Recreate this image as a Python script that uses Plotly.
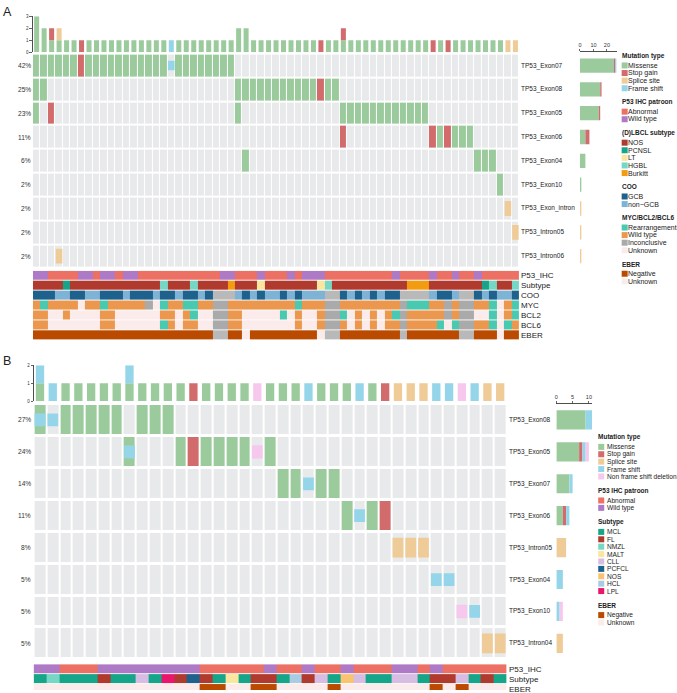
import plotly.graph_objects as go

W, H = 677, 693
FONT = "Liberation Sans, Arial, sans-serif"
TXT = "#222222"

# ======================= DATA =======================
# Mutation codes (one character per sample):
# "." none, M missense, S stop gain, P splice site, F frame shift,
# D non frame shift deletion, X missense + frame shift
mut_codes = ["M", "S", "P", "F", "D"]
mut_labels = ["Missense", "Stop gain", "Splice site", "Frame shift", "Non frame shift deletion"]
code_types = {".": [], "M": ["M"], "S": ["S"], "P": ["P"], "F": ["F"], "D": ["D"], "X": ["M", "F"]}

# ---------- Panel A ----------
genes_A = ["TP53_Exon07", "TP53_Exon08", "TP53_Exon05", "TP53_Exon06", "TP53_Exon04",
           "TP53_Exon10", "TP53_Exon_intron", "TP53_Intron05", "TP53_Intron06"]
pct_A = ["42%", "25%", "23%", "11%", "6%", "2%", "2%", "2%", "2%"]
muts_A = [
    "MMMMMMS" + "M" * 11 + "F" + "M" * 8 + "." * 38,
    "MM" + "." * 25 + "M" * 11 + "S" + "MM" + "." * 24,
    "M.S" + "." * 24 + "M" + "." * 13 + "M" * 12 + "." * 12,
    "." * 41 + "S" + "." * 11 + "SMSMMM" + "." * 6,
    "." * 28 + "M" + "." * 30 + "MMM" + "." * 3,
    "." * 62 + "M" + "." * 2,
    "." * 63 + "P" + ".",
    "." * 64 + "P",
    "...P" + "." * 61,
]
# annotation tracks (run-length encoded)
p53_A = [("w", 2), ("a", 4), ("w", 2), ("a", 1), ("w", 2), ("a", 1), ("w", 2), ("a", 11), ("w", 2), ("a", 3),
         ("w", 1), ("a", 3), ("w", 1), ("a", 1), ("w", 3), ("a", 9), ("w", 1), ("a", 4), ("w", 1), ("a", 2),
         ("w", 1), ("a", 2), ("w", 1), ("a", 5)]
subtype_A = [("N", 4), ("P", 1), ("N", 12), ("H", 1), ("N", 3), ("H", 1), ("N", 4), ("B", 1), ("N", 3), ("L", 1),
             ("N", 7), ("L", 1), ("H", 1), ("N", 10), ("B", 3), ("N", 7), ("P", 1), ("H", 1), ("N", 2), ("H", 1)]
coo_A = [("G", 3), ("n", 2), ("G", 2), ("n", 2), ("G", 3), ("n", 1), ("G", 3), ("n", 1), ("G", 2), ("n", 1),
         ("G", 2), ("n", 1), ("G", 1), ("u", 3), ("n", 1), ("G", 1), ("n", 1), ("G", 1), ("n", 2), ("G", 1),
         ("n", 1), ("G", 1), ("n", 3), ("u", 2), ("G", 1), ("n", 1), ("G", 1), ("n", 1), ("G", 1), ("n", 1),
         ("G", 2), ("u", 4), ("n", 1), ("G", 2), ("n", 1), ("u", 2), ("G", 1), ("n", 1), ("G", 1), ("n", 2), ("G", 1)]
myc_A = [("w", 1), ("r", 1), ("w", 4), ("u", 1), ("w", 2), ("r", 1), ("w", 5), ("i", 1), ("u", 1), ("r", 1),
         ("w", 2), ("r", 2), ("w", 2), ("i", 2), ("w", 9), ("r", 1), ("w", 3), ("i", 2), ("w", 8), ("i", 1),
         ("r", 3), ("w", 2), ("i", 1), ("w", 1), ("i", 2), ("w", 2), ("r", 1), ("u", 1), ("w", 1), ("r", 1)]
bcl2_A = [("w", 2), ("u", 2), ("w", 1), ("u", 4), ("w", 2), ("u", 6), ("w", 2), ("u", 1), ("w", 1), ("r", 1),
          ("u", 2), ("i", 2), ("w", 2), ("u", 5), ("r", 1), ("u", 1), ("w", 1), ("u", 2), ("w", 1), ("i", 2),
          ("r", 1), ("u", 1), ("w", 1), ("u", 1), ("w", 1), ("u", 1), ("w", 1), ("r", 1), ("i", 1), ("w", 5),
          ("i", 1), ("w", 1), ("i", 2), ("u", 2), ("r", 1), ("u", 1), ("w", 1), ("r", 1)]
bcl6_A = [("w", 2), ("u", 7), ("w", 2), ("u", 6), ("r", 1), ("w", 1), ("u", 1), ("w", 2), ("u", 2), ("i", 2),
          ("w", 2), ("u", 7), ("w", 1), ("u", 2), ("w", 1), ("i", 2), ("w", 1), ("u", 1), ("w", 1), ("u", 1),
          ("w", 1), ("u", 1), ("w", 2), ("i", 1), ("w", 4), ("r", 1), ("u", 1), ("r", 1), ("i", 2), ("w", 2),
          ("r", 1), ("u", 1), ("r", 1), ("w", 1)]
eber_A = [("n", 24), ("i", 2), ("n", 2), ("u", 1), ("n", 9), ("u", 1), ("i", 2), ("n", 8), ("i", 1), ("n", 7),
          ("i", 2), ("n", 3), ("u", 1), ("n", 2)]

# ---------- Panel B ----------
genes_B = ["TP53_Exon08", "TP53_Exon05", "TP53_Exon07", "TP53_Exon06", "TP53_Intron05",
           "TP53_Exon04", "TP53_Exon10", "TP53_Intron04"]
pct_B = ["27%", "24%", "14%", "11%", "8%", "5%", "5%", "5%"]
muts_B = [
    "XFMMMMM.MMM" + "." * 26,
    "." * 7 + "X" + "..." + "MSMMMMDM" + "." * 18,
    "." * 19 + "MMFMM" + "." * 13,
    "." * 24 + "MFMS" + "." * 9,
    "." * 28 + "PPP" + "." * 6,
    "." * 31 + "FF" + "." * 4,
    "." * 33 + "DF" + "." * 2,
    "." * 35 + "PP",
]
p53_B = [("w", 2), ("a", 3), ("w", 8), ("a", 5), ("w", 1), ("a", 2), ("w", 1), ("a", 2), ("w", 1), ("a", 3),
         ("w", 2), ("a", 1), ("w", 1), ("a", 5)]
subtype_B = [("M", 1), ("N", 1), ("M", 3), ("F", 1), ("M", 2), ("C", 1), ("M", 1), ("L", 1), ("F", 1), ("P", 1),
             ("F", 1), ("M", 1), ("T", 1), ("M", 1), ("F", 2), ("M", 1), ("H", 1), ("F", 1), ("C", 1), ("M", 1),
             ("O", 1), ("C", 1), ("M", 2), ("C", 2), ("M", 1), ("F", 2), ("C", 1), ("M", 1), ("F", 1), ("M", 1)]
eber_B = [("u", 13), ("n", 2), ("u", 2), ("n", 2), ("u", 4), ("n", 1), ("u", 7), ("n", 1), ("u", 1), ("n", 1), ("u", 3)]

# category keys / labels
ihc_keys, ihc_labels = ["a", "w"], ["Abnormal", "Wild type"]
subA_keys, subA_labels = ["N", "P", "L", "H", "B"], ["NOS", "PCNSL", "LT", "HGBL", "Burkitt"]
coo_keys, coo_labels = ["G", "n", "u"], ["GCB", "non\u2212GCB"]
gen_keys, gen_labels = ["r", "w", "i", "u"], ["Rearrangement", "Wild type", "Inconclusive", "Unknown"]
eber_keys, eber_labels = ["n", "u", "i"], ["Negative", "Unknown"]
subB_keys = ["M", "F", "N", "T", "C", "P", "O", "H", "L"]
subB_labels = ["MCL", "FL", "NMZL", "MALT", "CLL", "PCFCL", "NOS", "HCL", "LPL"]

# ======================= STYLE =======================
mut_colors = ["#9BCB9C", "#D26B6C", "#EECB97", "#95D5EA", "#F6C8EE"]
mut_heights = {"P": 0.62, "F": 0.40, "D": 0.42}
EMPTY = "#E8E9EB"
GRAY = "#B9B9B9"
UNK = "#FBEBEA"
ihc_colors = ["#EC7063", "#AF7AC5"]
subA_colors = ["#B03A2E", "#17A589", "#F9E79F", "#76D7C4", "#F39C12"]
coo_colors = ["#1F618D", "#7FB3D5", GRAY]
gen_colors = ["#48C9B0", "#EB984E", "#AAAAAA", UNK]
eber_colors = ["#BA4A00", UNK, GRAY]
subB_colors = ["#17A589", "#B03A2E", "#76D7C4", "#F9E79F", "#D7BDE2", "#1F618D", "#F8C471", "#A9CCE3", "#E9176B"]


def X(p):
    return p / W


def Y(p):
    return 1 - p / H


def dom_x(a, b):
    return [a / W, b / W]


def dom_y(a, b):
    return [max(0.0, 1 - b / H), 1 - a / H]


def expand(rle):
    return "".join(ch * n for ch, n in rle)


def discrete_scale(colors):
    n = len(colors)
    cs = []
    for i, c in enumerate(colors):
        cs += [[i / n, c], [(i + 1) / n, c]]
    return cs


fig = go.Figure()
annotations = []


def text(x, y, s, size, xanchor="left", yref="paper", bold=False, color=TXT):
    annotations.append(dict(
        x=X(x), xref="paper", y=y, yref=yref, text=("<b>%s</b>" % s) if bold else s,
        showarrow=False, xanchor=xanchor, yanchor="middle", borderpad=0, borderwidth=0,
        font=dict(size=size, family=FONT, color=color)))


def draw_panel(cfg):
    genes, pct, muts = cfg["genes"], cfg["pct"], cfg["muts"]
    n = len(muts[0])
    G = len(genes)
    ax = cfg["axes"]
    for s in muts:
        assert len(s) == n
    col_cnt = {t: [0] * n for t in mut_codes}
    gene_cnt = [{t: 0 for t in mut_codes} for _ in genes]
    for g, s in enumerate(muts):
        for c, ch in enumerate(s):
            for t in code_types[ch]:
                col_cnt[t][c] += 1
                gene_cnt[g][t] += 1
    # top stacked bars
    cum = [0] * n
    for t, col in zip(mut_codes, mut_colors):
        xs = [c for c in range(n) if col_cnt[t][c] > 0]
        if xs:
            fig.add_trace(go.Bar(x=xs, y=[col_cnt[t][c] for c in xs], base=[cum[c] for c in xs],
                                 width=cfg["topw"], marker=dict(color=col, line=dict(width=0)),
                                 xaxis=ax["tx"], yaxis=ax["ty"], hoverinfo="skip", showlegend=False))
        cum = [cum[c] + col_cnt[t][c] for c in range(n)]
    # grid: background + full-height mutations
    full_code = {"M": 1, "S": 2}
    z = []
    for s in muts:
        row = []
        for ch in s:
            v = 0
            for t in code_types[ch]:
                if t in full_code:
                    v = full_code[t]
            row.append(v)
        z.append(row)
    fig.add_trace(go.Heatmap(z=z, x0=0, dx=1, y0=0, dy=1, zmin=-0.5, zmax=2.5,
                             colorscale=discrete_scale([EMPTY, mut_colors[0], mut_colors[1]]),
                             showscale=False, xgap=cfg["xgap"], ygap=cfg["ygap"],
                             xaxis=ax["gx"], yaxis=ax["gy"], hoverinfo="skip"))
    # partial-height mutation marks
    for t, col in zip(mut_codes, mut_colors):
        if t not in mut_heights:
            continue
        h = mut_heights[t]
        xs, bs = [], []
        for g, s in enumerate(muts):
            for c, ch in enumerate(s):
                if t in code_types[ch]:
                    xs.append(c)
                    bs.append(g - h / 2)
        if xs:
            fig.add_trace(go.Bar(x=xs, y=[h] * len(xs), base=bs, width=cfg["cellw"],
                                 marker=dict(color=col, line=dict(width=0)),
                                 xaxis=ax["gx"], yaxis=ax["gy"], hoverinfo="skip", showlegend=False))
    # right horizontal stacked bars
    cumg = [0] * G
    for t, col in zip(mut_codes, mut_colors):
        vals = [gene_cnt[g][t] for g in range(G)]
        ys = [g for g in range(G) if vals[g] > 0]
        if ys:
            fig.add_trace(go.Bar(orientation="h", y=ys, x=[vals[g] for g in ys], base=[cumg[g] for g in ys],
                                 width=0.6, marker=dict(color=col, line=dict(width=0)),
                                 xaxis=ax["bx"], yaxis=ax["gy"], hoverinfo="skip", showlegend=False))
        cumg = [cumg[g] + vals[g] for g in range(G)]
    # row labels
    for g in range(G):
        text(cfg["pct_x"], g, pct[g], 6.6, xanchor="right", yref=ax["gy"], color="#333333")
        text(cfg["label_x"], g, genes[g], 6.5, yref=ax["gy"])
    # annotation tracks
    for k, (label, rle, keys, colors) in enumerate(cfg["tracks"]):
        s = expand(rle)
        assert len(s) == n, (label, len(s))
        zz = [[keys.index(ch) for ch in s]]
        fig.add_trace(go.Heatmap(z=zz, x0=0, dx=1, y0=k, dy=1, zmin=-0.5, zmax=len(keys) - 0.5,
                                 colorscale=discrete_scale(colors), showscale=False, xgap=0, ygap=1,
                                 xaxis=ax["gx"], yaxis=ax["ay"], hoverinfo="skip"))
        text(cfg["label_x"], k, label, 8, yref=ax["ay"])


def draw_legend(groups, title_x, sq_cx, text_x, y0, d1, pitch, d2, item_size):
    y = y0
    sx, sy, sc = [], [], []
    for title, labels, colors in groups:
        text(title_x, Y(y), title, 6.5, bold=True)
        y += d1
        for lab, col in zip(labels, colors):
            sx.append(sq_cx)
            sy.append(y)
            sc.append(col)
            text(text_x, Y(y), lab, item_size)
            y += pitch
        y += d2 - pitch
    fig.add_trace(go.Scatter(x=sx, y=sy, mode="markers",
                             marker=dict(symbol="square", size=6, color=sc, line=dict(width=0)),
                             xaxis="x7", yaxis="y7", hoverinfo="skip", showlegend=False))


tracks_A = [
    ("P53_IHC", p53_A, ihc_keys, ihc_colors),
    ("Subtype", subtype_A, subA_keys, subA_colors),
    ("COO", coo_A, coo_keys, coo_colors),
    ("MYC", myc_A, gen_keys, gen_colors),
    ("BCL2", bcl2_A, gen_keys, gen_colors),
    ("BCL6", bcl6_A, gen_keys, gen_colors),
    ("EBER", eber_A, eber_keys, eber_colors),
]
tracks_B = [
    ("P53_IHC", p53_B, ihc_keys, ihc_colors),
    ("Subtype", subtype_B, subB_keys, subB_colors),
    ("EBER", eber_B, eber_keys, eber_colors),
]

draw_panel(dict(genes=genes_A, pct=pct_A, muts=muts_A, tracks=tracks_A,
                axes=dict(tx="x", ty="y", gx="x2", gy="y2", ay="y3", bx="x3"),
                topw=0.67, cellw=0.87, xgap=1, ygap=2, pct_x=28.8, label_x=520.5))
draw_panel(dict(genes=genes_B, pct=pct_B, muts=muts_B, tracks=tracks_B,
                axes=dict(tx="x4", ty="y4", gx="x5", gy="y5", ay="y6", bx="x6"),
                topw=0.65, cellw=0.84, xgap=2, ygap=3, pct_x=28.8, label_x=508.5))

legend_A = [
    ("Mutation type", mut_labels[:4], mut_colors[:4]),
    ("P53 IHC patroon", ihc_labels, ihc_colors),
    ("(D)LBCL subtype", subA_labels, subA_colors),
    ("COO", coo_labels, coo_colors[:2]),
    ("MYC/BCL2/BCL6", gen_labels, gen_colors),
    ("EBER", eber_labels, eber_colors[:2]),
]
legend_B = [
    ("Mutation type", mut_labels, mut_colors),
    ("P53 IHC patroon", ihc_labels, ihc_colors),
    ("Subtype", subB_labels, subB_colors),
    ("EBER", eber_labels, eber_colors[:2]),
]
draw_legend(legend_A, 621.5, 624.5, 628.3, 54.3, 9.6, 7.65, 14.0, 7)
draw_legend(legend_B, 597.3, 601.0, 606.7, 438.3, 9.8, 7.45, 14.4, 6.6)

# panel letters
text(1.2, Y(10.5), "A", 12.5)
text(1.2, Y(361.5), "B", 12.5)

hidden = dict(visible=False, showgrid=False, zeroline=False, fixedrange=True)
tick_axis = dict(showgrid=False, zeroline=False, showline=True, linecolor="#222", linewidth=0.8,
                 ticks="outside", ticklen=2.5, tickwidth=0.7, tickcolor="#222", fixedrange=True)

fig.update_layout(
    width=W, height=H, margin=dict(l=0, r=0, t=0, b=0),
    paper_bgcolor="white", plot_bgcolor="rgba(0,0,0,0)",
    barmode="overlay", showlegend=False, font=dict(family=FONT, color=TXT),
    annotations=annotations,
    # ---- panel A ----
    xaxis=dict(hidden, domain=dom_x(31, 518.7), range=[-0.5, 64.5], anchor="y"),
    yaxis=dict(tick_axis, domain=dom_y(14.3, 50.7), range=[0, 3], anchor="free", position=X(30),
               tickvals=[0, 1, 2, 3], tickfont=dict(size=4.5, family=FONT, color="#333")),
    xaxis2=dict(hidden, domain=dom_x(31, 518.7), range=[-0.5, 64.5], anchor="y2"),
    yaxis2=dict(hidden, domain=dom_y(52, 268), range=[8.5, -0.5], anchor="x2"),
    yaxis3=dict(hidden, domain=dom_y(270.7, 340.7), range=[6.5, -0.5], anchor="x2"),
    xaxis3=dict(tick_axis, domain=dom_x(579.7, 617), range=[0, 27.6], anchor="free", position=Y(49.3),
                side="top", tickvals=[0, 10, 20], ticklen=2,
                tickfont=dict(size=5.5, family=FONT, color="#333")),
    # ---- panel B ----
    xaxis4=dict(hidden, domain=dom_x(31.7, 506.1), range=[-0.5, 36.5], anchor="y4"),
    yaxis4=dict(tick_axis, domain=dom_y(366, 402), range=[0, 2], anchor="free", position=X(31.2),
                tickvals=[0, 1, 2], tickfont=dict(size=4.5, family=FONT, color="#333")),
    xaxis5=dict(hidden, domain=dom_x(31.7, 506.1), range=[-0.5, 36.5], anchor="y5"),
    yaxis5=dict(hidden, domain=dom_y(404.9, 662.1), range=[7.5, -0.5], anchor="x5"),
    yaxis6=dict(hidden, domain=dom_y(667, 693), range=[2.1, -0.5], anchor="x5"),
    xaxis6=dict(tick_axis, domain=dom_x(556, 591.9), range=[0, 11], anchor="free", position=Y(404),
                side="top", tickvals=[0, 5, 10], ticklen=2,
                tickfont=dict(size=5.5, family=FONT, color="#333")),
    # ---- legend keys ----
    xaxis7=dict(hidden, domain=[0, 1], range=[0, W], anchor="y7"),
    yaxis7=dict(hidden, domain=[0, 1], range=[H, 0], anchor="x7"),
)

fig.write_html("out.html", config={"displayModeBar": False, "staticPlot": True},
               post_script="document.body.style.margin='0';document.body.style.overflow='hidden';")
